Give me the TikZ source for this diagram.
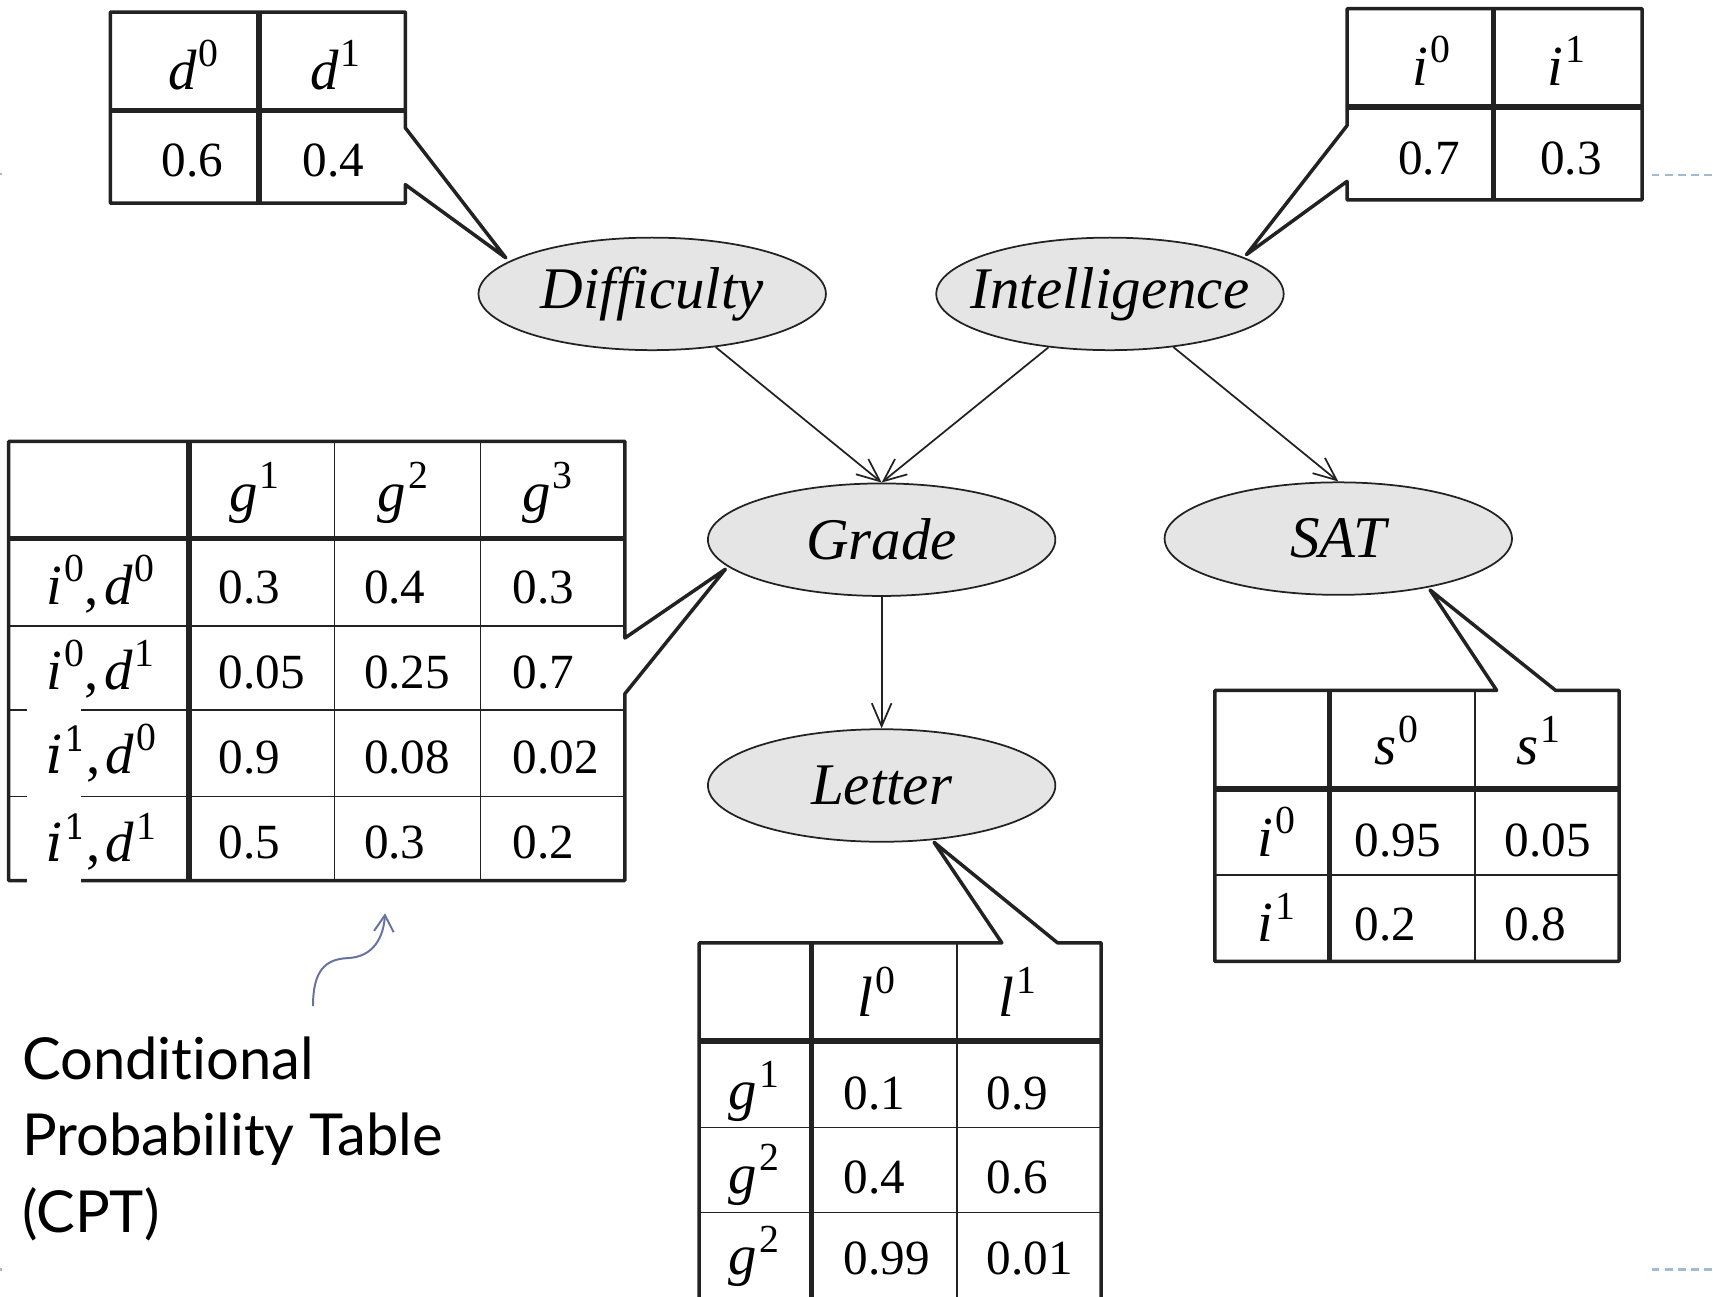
\documentclass[tikz,border=0pt]{standalone}
\usepackage{fontspec}
\setmainfont{Liberation Serif}
\newfontfamily\capfont[Ligatures=NoCommon]{Lato}
\newfontfamily\hookfont{DejaVu Serif}
\usetikzlibrary{shapes.geometric,arrows.meta}
\definecolor{ink}{HTML}{222222}
\definecolor{nodefill}{HTML}{E5E5E5}
\definecolor{cptblue}{HTML}{6673A0}
\definecolor{deco}{HTML}{A3BBD0}
\newcommand\sv[2]{\textit{#1}\kern0.04em\raisebox{0.40em}{\scalebox{0.7}{#2}}}
\newcommand\hv[1]{{\hookfont\itshape i}\kern0.03em\raisebox{0.42em}{\scalebox{0.66}{\hookfont #1}}}
\tikzset{
  outl/.style={line width=3.2pt, draw=ink, line join=round},
  thicksep/.style={line width=5pt, draw=ink},
  thinsep/.style={line width=1.2pt, draw=ink},
  var/.style={ellipse, draw=ink, line width=1.6pt, fill=nodefill, minimum width=318pt, minimum height=103pt, inner sep=0pt, font=\fontsize{54}{60}\selectfont\itshape},
  arr/.style={draw=ink, line width=1.6pt, -{Straight Barb[length=21pt,width=18pt,line width=1.6pt]}},
  hd/.style={anchor=base, inner sep=0pt, font=\fontsize{52}{60}\selectfont},
  num/.style={anchor=base west, inner sep=0pt, font=\fontsize{45}{54}\selectfont},
  numc/.style={anchor=base, inner sep=0pt, font=\fontsize{45}{54}\selectfont},
  hook/.style={anchor=base west, inner sep=0pt, font=\fontsize{48}{56}\selectfont},
  cpt/.style={anchor=base west, inner sep=0pt, font=\fontsize{53}{70}\selectfont\capfont},
  cptarr/.style={draw=cptblue, line width=1.8pt, -{Straight Barb[length=15pt,width=18pt,line width=1.8pt]}},
  decoline/.style={draw=deco, line width=2pt, dash pattern=on 7pt off 5pt}
}
\begin{document}
\begin{tikzpicture}[x=1pt,y=-1pt]
\useasboundingbox (0,0) rectangle (1568,1187);

% ---------- nodes ----------
\node[var] (dif) at (597,269) {\makebox[0pt]{Difficulty}};
\node[var] (int) at (1016,269) {\makebox[0pt]{Intelligence}};
\node[var] (grd) at (807,494) {\makebox[0pt]{Grade}};
\node[var] (sat) at (1225,493) {\makebox[0pt]{SAT}};
\node[var] (let) at (807,719) {\makebox[0pt]{Letter}};

\draw[arr] (dif.-40) -- (grd.north);
\draw[arr] (int.-139) -- (grd.north);
\draw[arr] (int.-40) -- (sat.north);
\draw[arr] (grd.south) -- (let.north);

% callout tips
\coordinate (dtip) at (463,236);
\coordinate (itip) at (1141,233);
\coordinate (gtip) at (664,521);
\coordinate (stip) at (1309,540);
\coordinate (ltip) at (855,771);

% ---------- Table D ----------
\draw[outl] (101,11) -- (371,11) -- (371,117) -- (dtip) -- (371,169) -- (371,186) -- (101,186) -- cycle;
\draw[thicksep] (101,101) -- (371,101);
\draw[thicksep] (237,11) -- (237,186);
\node[hd] (dh0) at (177,82) {\sv{d}{0}};
\node[hd] (dh1) at (307,82) {\sv{d}{1}};
\node[numc] (dv0) at (176,162) {0.6};
\node[numc] (dv1) at (305,162) {0.4};

% ---------- Table I ----------
\draw[outl] (1233,8) -- (1503,8) -- (1503,183) -- (1233,183) -- (1233,166) -- (itip) -- (1233,115) -- cycle;
\draw[thicksep] (1233,98) -- (1503,98);
\draw[thicksep] (1367,8) -- (1367,183);
\node[hd] (ih0) at (1310,78) {\sv{i}{0}};
\node[hd] (ih1) at (1434,78) {\sv{i}{1}};
\node[numc] (iv0) at (1308,160) {0.7};
\node[numc] (iv1) at (1438,160) {0.3};

% ---------- Table G ----------
\draw[thinsep] (306,404) -- (306,806);
\draw[thinsep] (440,404) -- (440,806);
\draw[thinsep] (8,573) -- (572,573);
\draw[thinsep] (8,650) -- (572,650);
\draw[thinsep] (8,729) -- (572,729);
\draw[thicksep] (173,404) -- (173,806);
\draw[thicksep] (8,493) -- (572,493);
\draw[outl] (8,404) -- (572,404) -- (572,584) -- (gtip) -- (572,635) -- (572,806) -- (8,806) -- cycle;
\fill[white] (25,647) rectangle (74,812);
\node[hd] (gh1) at (233,468) {\sv{g}{1}};
\node[hd] (gh2) at (369,468) {\sv{g}{2}};
\node[hd] (gh3) at (501,468) {\sv{g}{3}};
\node[hd] (gr1) at (92,553) {\sv{i}{0},\kern0.1em\sv{d}{0}};
\node[hd] (gr2) at (92,631) {\sv{i}{0},\kern0.1em\sv{d}{1}};
\node[hook] (gr3a) at (42,708) {\hv{1}};
\node[hd,anchor=base west] (gr3b) at (79,708) {,\kern0.08em\sv{d}{0}};
\node[hook] (gr4a) at (42,789) {\hv{1}};
\node[hd,anchor=base west] (gr4b) at (79,789) {,\kern0.08em\sv{d}{1}};
\node[num] (g11) at (200,552) {0.3};
\node[num] (g12) at (333,552) {0.4};
\node[num] (g13) at (469,552) {0.3};
\node[num] (g21) at (200,630) {0.05};
\node[num] (g22) at (333,630) {0.25};
\node[num] (g23) at (469,630) {0.7};
\node[num] (g31) at (200,708) {0.9};
\node[num] (g32) at (333,708) {0.08};
\node[num] (g33) at (469,708) {0.02};
\node[num] (g41) at (200,786) {0.5};
\node[num] (g42) at (333,786) {0.3};
\node[num] (g43) at (469,786) {0.2};

% ---------- Table S ----------
\draw[thinsep] (1350,632) -- (1350,880);
\draw[thinsep] (1112,801) -- (1482,801);
\draw[thicksep] (1217,632) -- (1217,880);
\draw[thicksep] (1112,722) -- (1482,722);
\draw[outl] (1112,632) -- (1370,632) -- (stip) -- (1424,632) -- (1482,632) -- (1482,880) -- (1112,880) -- cycle;
\node[hd] (sh0) at (1278,700) {\sv{s}{0}};
\node[hd] (sh1) at (1408,700) {\sv{s}{1}};
\node[hd] (sr1) at (1168,784) {\sv{i}{0}};
\node[hd] (sr2) at (1168,862) {\sv{i}{1}};
\node[num] (s11) at (1240,784) {0.95};
\node[num] (s12) at (1377,784) {0.05};
\node[num] (s21) at (1240,861) {0.2};
\node[num] (s22) at (1377,861) {0.8};

% ---------- Table L ----------
\draw[thinsep] (876,863) -- (876,1187);
\draw[thinsep] (640,1032) -- (1008,1032);
\draw[thinsep] (640,1110) -- (1008,1110);
\draw[thicksep] (743,863) -- (743,1187);
\draw[thicksep] (640,953) -- (1008,953);
\draw[outl] (640,1190) -- (640,863) -- (917,863) -- (ltip) -- (968,863) -- (1008,863) -- (1008,1190);
\node[hd] (lh0) at (802,930) {\sv{l}{0}};
\node[hd] (lh1) at (931,930) {\sv{l}{1}};
\node[hd] (lr1) at (690,1016) {\sv{g}{1}};
\node[hd] (lr2) at (690,1092) {\sv{g}{2}};
\node[hd] (lr3) at (690,1167) {\sv{g}{2}};
\node[num] (l11) at (772,1016) {0.1};
\node[num] (l12) at (903,1016) {0.9};
\node[num] (l21) at (772,1092) {0.4};
\node[num] (l22) at (903,1092) {0.6};
\node[num] (l31) at (772,1167) {0.99};
\node[num] (l32) at (903,1167) {0.01};

% ---------- CPT annotation ----------
\node[cpt] (cpt1) at (20,988) {Conditional};
\node[cpt] (cpt2) at (20,1058) {Probability Table};
\node[cpt] (cpt3) at (20,1128) {(CPT)};
\coordinate (cA) at (286.5,921);
\coordinate (cB) at (352.5,836);
\draw[cptarr] (cA) .. controls (286.5,888) and (298,878) .. (318,877) .. controls (342,876) and (351,858) .. (cB);

% ---------- slide decorations ----------
\draw[decoline] (1512,160) -- (1568,160);
\draw[decoline] (1512,1162) -- (1568,1162);
\draw[draw=deco, line width=2pt] (0,159) -- (1.5,159);
\draw[draw=deco, line width=2pt] (0,1162) -- (1.5,1162);
\end{tikzpicture}
\end{document}
